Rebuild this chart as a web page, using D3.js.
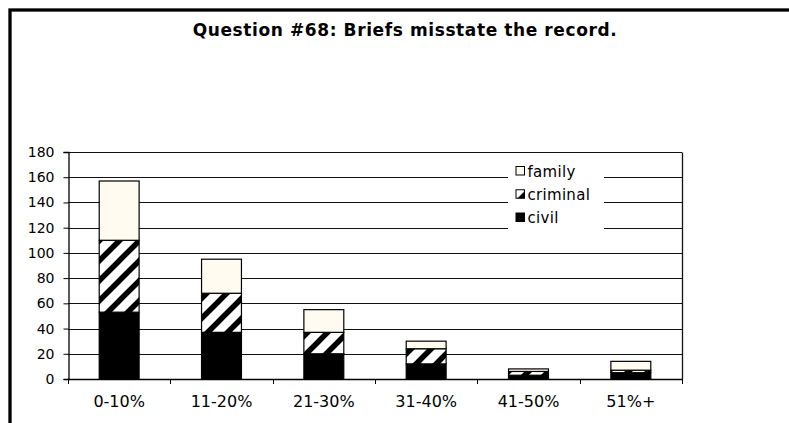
<!DOCTYPE html>
<html>
<head>
<meta charset="utf-8">
<script src="https://cdn.jsdelivr.net/npm/d3@7"></script>
<style>
  html, body { margin: 0; padding: 0; background: #fff; }
  svg { display: block; }
  text { font-family: "DejaVu Sans", Verdana, sans-serif; fill: #000; }
</style>
</head>
<body>
<svg id="chart" width="789" height="423"></svg>
<script>
const title = "Question #68: Briefs misstate the record.";
const categories = ["0-10%", "11-20%", "21-30%", "31-40%", "41-50%", "51%+"];
const civil    = [53, 37, 20, 12, 3, 5];
const criminal = [57, 31, 17, 12, 3, 2];
const family   = [47, 27, 18, 6, 2, 7];
const seriesNames = ["civil", "criminal", "family"];
const legendOrder = ["family", "criminal", "civil"];
const yTicks = [0, 20, 40, 60, 80, 100, 120, 140, 160, 180];

(function () {
const svg = d3.select("#chart");

// outer frame
svg.append("rect").attr("x", 10).attr("y", 10).attr("width", 800).attr("height", 430)
  .attr("fill", "none").attr("stroke", "#000").attr("stroke-width", 3.3);

// pattern
const defs = svg.append("defs");
const pat = defs.append("pattern").attr("id", "diag").attr("patternUnits", "userSpaceOnUse")
  .attr("width", 20).attr("height", 20);
pat.append("rect").attr("width", 20).attr("height", 20).attr("fill", "#fff");
pat.append("path").attr("d", "M0,20 L20,0 M-5,5 L5,-5 M15,25 L25,15")
  .attr("stroke", "#000").attr("stroke-width", 5.5);

const fills = { civil: "#000", criminal: "url(#diag)", family: "#FFFBF0" };

// title
svg.append("text").attr("x", 405).attr("y", 36).attr("text-anchor", "middle")
  .attr("font-size", "17px").attr("font-weight", "bold").attr("letter-spacing", "0.6px").text(title);

const pLeft = 68, pRight = 682, pTop = 152, pBottom = 379;
const x = d3.scaleBand().domain(categories).range([pLeft, pRight]).paddingInner(0.61).paddingOuter(0.305);
const y = d3.scaleLinear().domain([0, 180]).range([pBottom, pTop]);

// gridlines
svg.append("g").selectAll("line").data(yTicks.filter(d => d > 0)).join("line")
  .attr("x1", pLeft).attr("x2", pRight)
  .attr("y1", d => Math.round(y(d)) + 0.5).attr("y2", d => Math.round(y(d)) + 0.5)
  .attr("stroke", "#111").attr("stroke-width", 1);

// plot area right border
svg.append("line").attr("x1", pRight + 0.5).attr("x2", pRight + 0.5)
  .attr("y1", Math.round(y(180)) + 0.5).attr("y2", pBottom)
  .attr("stroke", "#111").attr("stroke-width", 1.3);

// stacked bars
const rows = categories.map((c, i) => ({ cat: c, civil: civil[i], criminal: criminal[i], family: family[i] }));
const stack = d3.stack().keys(seriesNames)(rows);
svg.append("g").selectAll("g").data(stack).join("g")
  .attr("fill", d => fills[d.key])
  .selectAll("rect").data(d => d).join("rect")
  .attr("x", d => x(d.data.cat))
  .attr("width", x.bandwidth())
  .attr("y", d => y(d[1]))
  .attr("height", d => y(d[0]) - y(d[1]))
  .attr("stroke", "#000").attr("stroke-width", 1.2);

// y axis
const yAxis = d3.axisLeft(y).tickValues(yTicks).tickSize(5).tickPadding(9).tickFormat(d3.format("d"));
const gy = svg.append("g").attr("transform", `translate(${pLeft + 0.5},0)`).call(yAxis);
gy.selectAll("text").attr("font-size", "14px").style("font-family", "DejaVu Sans");
gy.select(".domain").attr("stroke", "#000").attr("stroke-width", 1.3);
gy.selectAll(".tick line").attr("stroke", "#000");

// x axis
const xAxis = d3.axisBottom(x).tickSize(0).tickPadding(17);
const gx = svg.append("g").attr("transform", `translate(0,${pBottom})`).call(xAxis);
gx.selectAll("text").attr("font-size", "16px").style("font-family", "DejaVu Sans");
gx.select(".domain").attr("stroke", "#000").attr("stroke-width", 1.5).attr("d", `M${pLeft},0.5H${pRight + 1}`);
const bounds = categories.map(c => x(c) - x.step() * x.paddingInner() / 2).concat([pRight]);
gx.append("g").selectAll("line").data(bounds).join("line")
  .attr("x1", d => Math.round(d) + 0.5).attr("x2", d => Math.round(d) + 0.5)
  .attr("y1", 0).attr("y2", 5).attr("stroke", "#000");

// legend
const lg = svg.append("g");
lg.append("rect").attr("x", 508).attr("y", 162).attr("width", 96).attr("height", 69).attr("fill", "#fff");
const legendY = d3.scalePoint().domain(legendOrder).range([171, 217.5]);

const lp = defs.append("pattern").attr("id", "legdiag").attr("patternUnits", "userSpaceOnUse")
  .attr("x", 516).attr("y", legendY("criminal") - 4.5).attr("width", 20).attr("height", 20);
lp.append("rect").attr("width", 20).attr("height", 20).attr("fill", "#fff");
lp.append("path").attr("d", "M0,14 L14,0 L20,0 L20,20 L0,20 Z").attr("transform", "translate(-3,-1)").attr("fill", "#000");

const li = lg.selectAll("g.item").data(legendOrder).join("g").attr("class", "item");
li.append("rect").attr("x", 516).attr("y", d => legendY(d) - 4.5)
  .attr("width", 8.5).attr("height", 8.5)
  .attr("fill", d => d === "criminal" ? "url(#legdiag)" : fills[d])
  .attr("stroke", "#000").attr("stroke-width", 1);
li.append("text").attr("x", 527.5).attr("y", d => legendY(d) + 5.5)
  .attr("font-size", "15px").attr("letter-spacing", "0.3px").text(d => d);
})();
</script>
</body>
</html>
